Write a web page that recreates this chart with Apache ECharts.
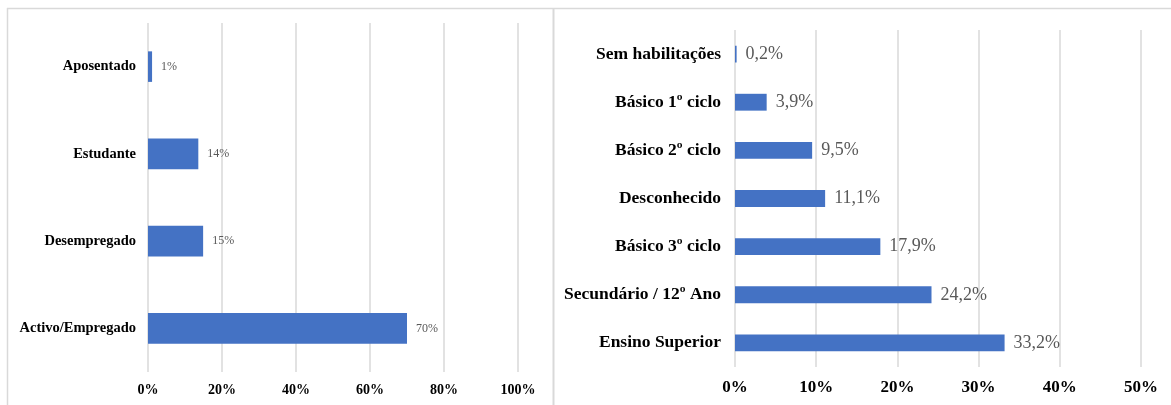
<!DOCTYPE html>
<html>
<head>
<meta charset="utf-8">
<script src="https://cdn.jsdelivr.net/npm/echarts@6/dist/echarts.min.js"></script>
<style>
  html, body { margin: 0; padding: 0; background: #fff; }
  #chart { width: 1171px; height: 405px; }
</style>
</head>
<body>
<div id="chart"></div>
<script>
// left panel: situação profissional
var sitCategories = ["Aposentado", "Estudante", "Desempregado", "Activo/Empregado"];
var sitValues = [1.1, 13.6, 14.9, 70.0];
var sitTicks = [0, 20, 40, 60, 80, 100];

// right panel: habilitações
var habCategories = ["Sem habilitações", "Básico 1º ciclo", "Básico 2º ciclo", "Desconhecido",
    "Básico 3º ciclo", "Secundário / 12º Ano", "Ensino Superior"];
var habValues = [0.2, 3.9, 9.5, 11.1, 17.9, 24.2, 33.2];
var habTicks = [0, 10, 20, 30, 40, 50];

var serif = "Liberation Serif";
var blue = "#4472C4";
var gridColor = "#d9d9d9";

var myChart = echarts.init(document.getElementById("chart"));

var option = {
    backgroundColor: "#fff",
    animation: false,
    graphic: [
        // panel borders
        { type: "line", shape: { x1: 7, y1: 8.5, x2: 1171, y2: 8.5 }, style: { stroke: gridColor, lineWidth: 1.5 } },
        { type: "line", shape: { x1: 7.5, y1: 8, x2: 7.5, y2: 405 }, style: { stroke: gridColor, lineWidth: 1.5 } },
        { type: "line", shape: { x1: 553.5, y1: 8, x2: 553.5, y2: 405 }, style: { stroke: gridColor, lineWidth: 2 } }
    ],
    grid: [
        { left: 148, right: 653, top: 23, bottom: 33 },
        { left: 735, right: 30, top: 30, bottom: 38 }
    ],
    xAxis: [
        {
            gridIndex: 0, type: "value", min: sitTicks[0], max: sitTicks[sitTicks.length - 1], interval: 20,
            axisLine: { show: false }, axisTick: { show: false },
            splitLine: { lineStyle: { color: gridColor, width: 1.5 } },
            axisLabel: { fontFamily: serif, fontWeight: "bold", fontSize: 14, color: "#000", margin: 11,
                formatter: function (v) { return v + "%"; } }
        },
        {
            gridIndex: 1, type: "value", min: habTicks[0], max: habTicks[habTicks.length - 1], interval: 10,
            axisLine: { show: false }, axisTick: { show: false },
            splitLine: { lineStyle: { color: gridColor, width: 1.5 } },
            axisLabel: { fontFamily: serif, fontWeight: "bold", fontSize: 17, color: "#000", margin: 12,
                formatter: function (v) { return v + "%"; } }
        }
    ],
    yAxis: [
        {
            gridIndex: 0, type: "category", data: sitCategories, inverse: true,
            axisLine: { show: false }, axisTick: { show: false },
            axisLabel: { fontFamily: serif, fontWeight: "bold", fontSize: 14.5, color: "#000", margin: 12 }
        },
        {
            gridIndex: 1, type: "category", data: habCategories, inverse: true,
            axisLine: { show: false }, axisTick: { show: false },
            axisLabel: { fontFamily: serif, fontWeight: "bold", fontSize: 17.5, color: "#000", margin: 14 }
        }
    ],
    series: [
        {
            type: "bar", xAxisIndex: 0, yAxisIndex: 0, data: sitValues,
            barWidth: "35%",
            itemStyle: { color: blue },
            label: { show: true, position: "right", distance: 9, fontFamily: serif, fontSize: 12, color: "#595959",
                formatter: function (p) { return Math.round(p.value) + "%"; } }
        },
        {
            type: "bar", xAxisIndex: 1, yAxisIndex: 1, data: habValues,
            barWidth: "35%",
            itemStyle: { color: blue },
            label: { show: true, position: "right", distance: 9, fontFamily: serif, fontSize: 18, color: "#595959",
                formatter: function (p) { return p.value.toFixed(1).replace(".", ",") + "%"; } }
        }
    ]
};
myChart.setOption(option);
</script>
</body>
</html>
